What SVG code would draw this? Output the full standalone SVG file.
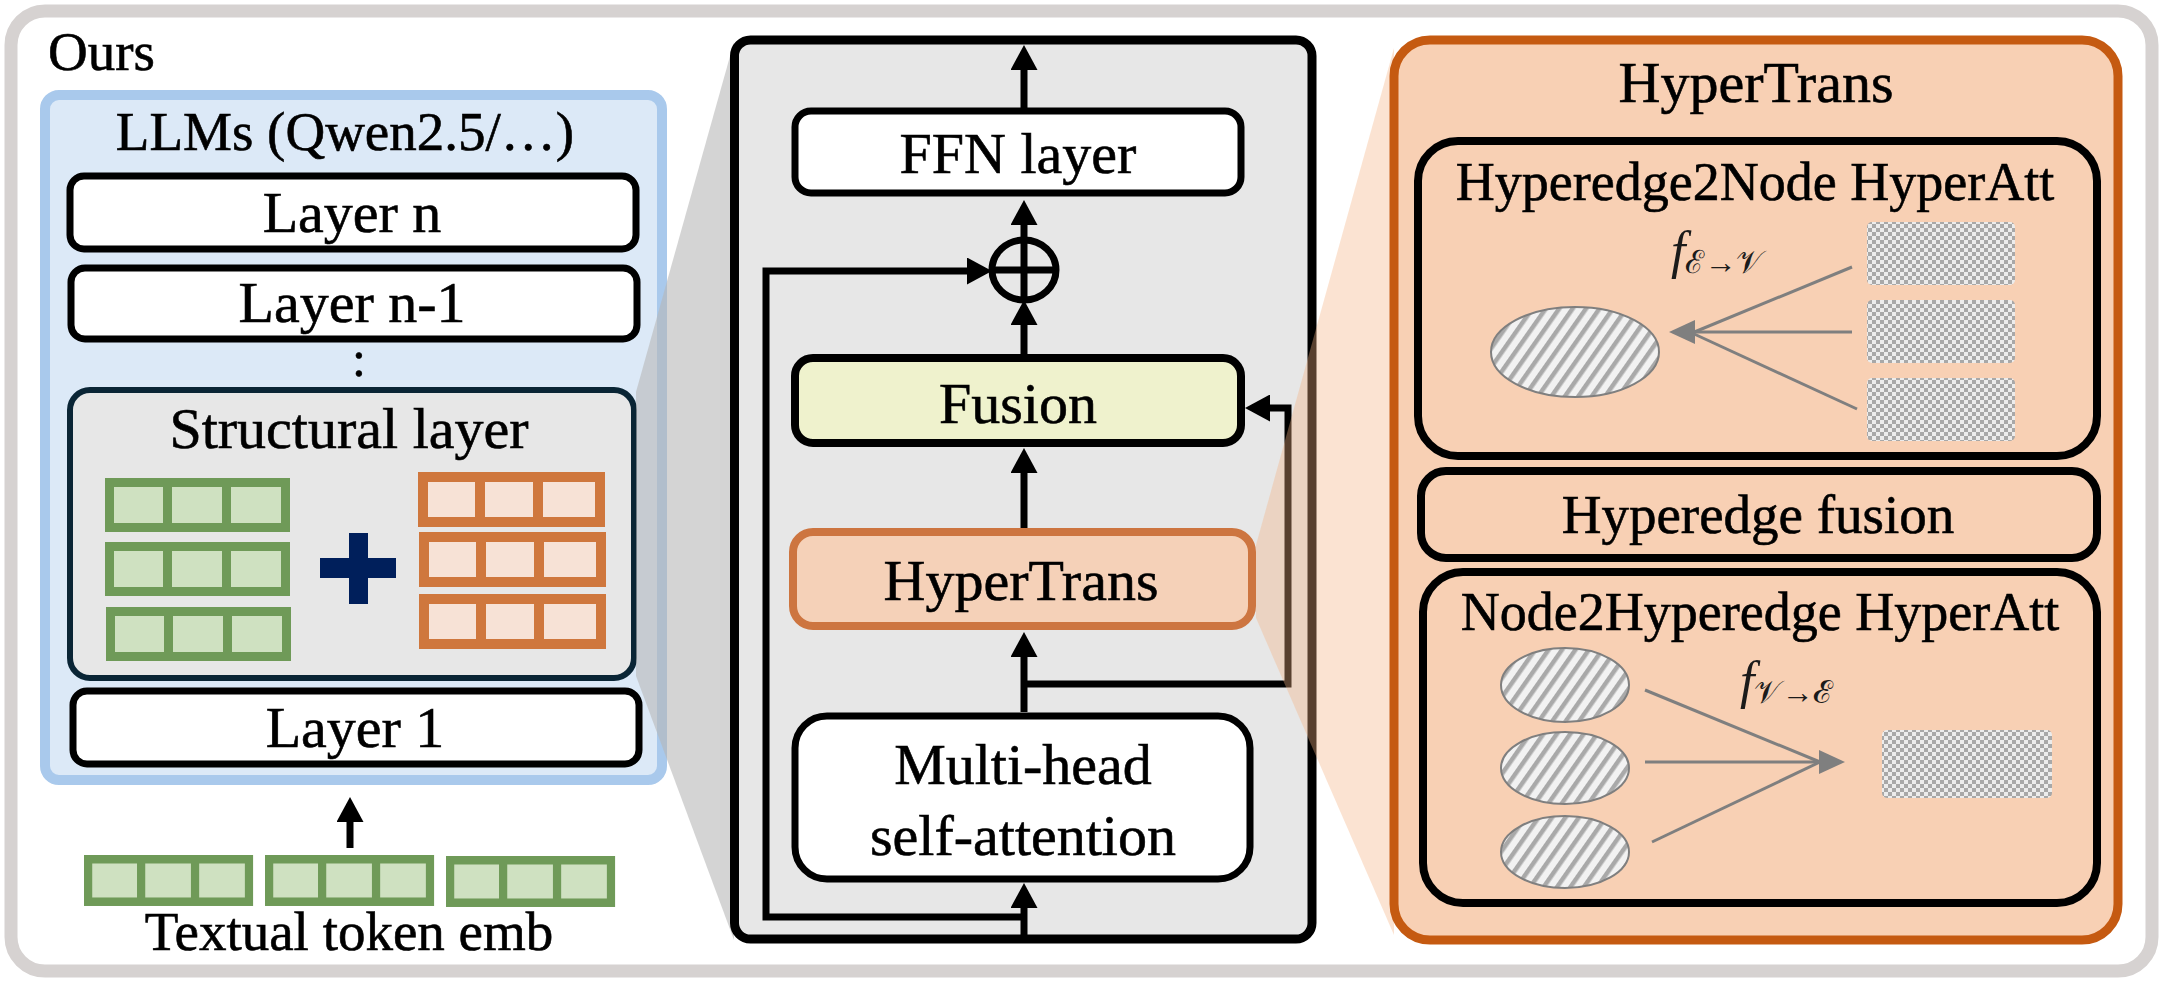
<svg xmlns="http://www.w3.org/2000/svg" width="2163" height="999" viewBox="0 0 2163 999">
<defs>
<style>
text{font-family:"Times New Roman","Liberation Serif",serif}
.t{fill:#000;text-anchor:middle;stroke:#000;stroke-width:0.6}
.ts{fill:#000;text-anchor:start;stroke:#000;stroke-width:0.6}
.box{fill:#fff;stroke:#000;stroke-width:7}
.conn{fill:none;stroke:#000;stroke-width:7}
.gconn{fill:none;stroke:#7f7f7f;stroke-width:3}
.sub{fill:none;stroke:#000;stroke-width:8}
.node{fill:url(#hatch);stroke:#7f7f7f;stroke-width:2}
.edge{fill:url(#checker)}
.math{fill:#1b1b1b}
</style>
<marker id="arr" markerUnits="userSpaceOnUse" markerWidth="25" markerHeight="27" viewBox="0 0 25 27" refX="18" refY="13.5" orient="auto"><path d="M0,0 L25,13.5 L0,27 Z" fill="#000"/></marker>
<marker id="garr" markerUnits="userSpaceOnUse" markerWidth="26" markerHeight="24" viewBox="0 0 26 24" refX="20" refY="12" orient="auto"><path d="M0,0 L26,12 L0,24 Z" fill="#7f7f7f"/></marker>
<pattern id="hatch" patternUnits="userSpaceOnUse" width="11" height="11" patternTransform="rotate(35)"><rect width="11" height="11" fill="#f2f2f2"/><rect width="4.5" height="11" fill="#a9a9a9"/></pattern>
<pattern id="checker" patternUnits="userSpaceOnUse" width="8" height="8"><rect width="8" height="8" fill="#ececec"/><rect width="4" height="4" fill="#a8a8a8"/><rect x="4" y="4" width="4" height="4" fill="#a8a8a8"/></pattern>
<g id="gbar"><rect width="185" height="54" fill="#6f9a58"/><rect x="9" y="9" width="49" height="36" fill="#cfe1c1"/><rect x="67" y="9" width="50" height="36" fill="#cfe1c1"/><rect x="126" y="9" width="50" height="36" fill="#cfe1c1"/></g>
<g id="obar"><rect width="187" height="55" fill="#cf773d"/><rect x="10" y="10" width="47" height="35" fill="#f7e2d6"/><rect x="67" y="10" width="48" height="35" fill="#f7e2d6"/><rect x="125" y="10" width="52" height="35" fill="#f7e2d6"/></g>
</defs>

<g id="frame">
<rect x="11" y="11" width="2141" height="960" rx="34" fill="#fff" stroke="#d6d2d1" stroke-width="13"/>
<text class="ts" x="48" y="70" font-size="55">Ours</text>
</g>

<g id="llm-panel">
<rect x="45" y="95" width="617" height="685" rx="14" fill="#dce9f7" stroke="#a9c9ec" stroke-width="10"/>
<text class="t" x="345" y="150" font-size="55">LLMs (Qwen2.5/…)</text>
</g>
<g id="layer-n">
<rect class="box" x="70" y="176" width="566" height="73" rx="14"/>
<text class="t" x="352" y="232" font-size="58">Layer n</text>
</g>
<g id="layer-n-1">
<rect class="box" x="71" y="268" width="566" height="71" rx="14"/>
<text class="t" x="352" y="322" font-size="58">Layer n-1</text>
</g>
<text class="t" x="359" y="376" font-size="50" stroke-width="1.5">:</text>
<g id="structural-layer">
<rect x="70" y="390" width="564" height="288" rx="20" fill="#e7e7e7" stroke="#0a2535" stroke-width="6"/>
<text class="t" x="349" y="448" font-size="58">Structural layer</text>
<use href="#gbar" x="105" y="478"/>
<use href="#gbar" x="105" y="542"/>
<use href="#gbar" x="106" y="607"/>
<use href="#obar" x="418" y="472"/>
<use href="#obar" x="419" y="532"/>
<use href="#obar" x="419" y="594"/>
<rect x="349" y="533" width="19" height="71" fill="#001f5b"/>
<rect x="320" y="558" width="76" height="20" fill="#001f5b"/>
</g>
<g id="layer-1">
<rect class="box" x="73" y="691" width="566" height="73" rx="14"/>
<text class="t" x="355" y="747" font-size="58">Layer 1</text>
</g>
<g id="token-emb">
<use href="#gbar" transform="translate(84,855) scale(0.914,0.944)"/>
<use href="#gbar" transform="translate(265,855) scale(0.914,0.944)"/>
<use href="#gbar" transform="translate(446,856) scale(0.914,0.944)"/>
<text class="t" x="349" y="950" font-size="55">Textual token emb</text>
</g>

<g id="zoom-gray">
<polygon points="636,392 734,42 734,940 636,676" fill="#b7b7b7" fill-opacity="0.6"/>
</g>

<g id="block-panel">
<rect x="734.5" y="40" width="577.5" height="899" rx="16" fill="#e7e7e7" stroke="#000" stroke-width="9"/>
</g>
<g id="ffn">
<rect class="box" x="795" y="111" width="446" height="82" rx="16" stroke-width="8"/>
<text class="t" x="1018" y="173" font-size="58">FFN layer</text>
</g>
<g id="add">
<ellipse cx="1024" cy="270" rx="32" ry="30" fill="none" stroke="#000" stroke-width="7"/>
<line x1="992" y1="270" x2="1056" y2="270" stroke="#000" stroke-width="7"/>
<line x1="1024" y1="240" x2="1024" y2="300" stroke="#000" stroke-width="7"/>
</g>
<g id="fusion">
<rect x="795" y="358" width="446" height="85" rx="18" fill="#eff2cd" stroke="#000" stroke-width="8"/>
<text class="t" x="1018" y="423" font-size="58">Fusion</text>
</g>
<g id="hypertrans">
<rect x="793" y="532" width="459" height="94" rx="20" fill="#f5d1b8" stroke="#cd7540" stroke-width="8"/>
<text class="t" x="1021" y="600" font-size="58">HyperTrans</text>
</g>
<g id="mhsa">
<rect class="box" x="795" y="716" width="455" height="163" rx="32" stroke-width="8"/>
<text class="t" x="1023" y="784" font-size="58">Multi-head</text>
<text class="t" x="1023" y="855" font-size="58">self-attention</text>
</g>

<g id="connectors">
<path class="conn" d="M1024,108 V52" marker-end="url(#arr)"/>
<path class="conn" d="M1024,240 V207" marker-end="url(#arr)"/>
<path class="conn" d="M1024,354 V307" marker-end="url(#arr)"/>
<path class="conn" d="M1024,528 V455" marker-end="url(#arr)"/>
<path class="conn" d="M1024,712 V639" marker-end="url(#arr)"/>
<path class="conn" d="M1024,940 V890" marker-end="url(#arr)"/>
<path class="conn" d="M1024,917 H766 V271 H985" marker-end="url(#arr)"/>
<path class="conn" d="M1024,684 H1288 V408 H1252" marker-end="url(#arr)"/>
<path class="conn" d="M350,848 V804" marker-end="url(#arr)"/>
</g>

<g id="zoom-orange">
<polygon points="1256,545 1394,48 1394,935 1256,618" fill="#f4b183" fill-opacity="0.36"/>
</g>

<g id="hypertrans-panel">
<rect x="1394" y="40" width="724" height="900" rx="36" fill="#f8d0b4" stroke="#c55a11" stroke-width="9"/>
<text class="t" x="1756" y="102" font-size="58">HyperTrans</text>
</g>
<g id="hyperedge2node">
<rect class="sub" x="1418" y="141" width="679" height="315" rx="40"/>
<text class="t" x="1755" y="200" font-size="54">Hyperedge2Node HyperAtt</text>
<ellipse class="node" cx="1575" cy="352" rx="84" ry="45"/>
<rect class="edge" x="1867" y="222" width="148" height="63" rx="5"/>
<rect class="edge" x="1867" y="300" width="148" height="63" rx="5"/>
<rect class="edge" x="1867" y="378" width="148" height="63" rx="5"/>
<text class="math" x="1671" y="268" font-size="52" font-style="italic">f<tspan font-size="32" font-style="normal" dy="5">ℰ→𝒱</tspan></text>
</g>
<g id="hyperedge-fusion">
<rect class="sub" x="1421" y="471" width="676" height="87" rx="25"/>
<text class="t" x="1758" y="533" font-size="55">Hyperedge fusion</text>
</g>
<g id="node2hyperedge">
<rect class="sub" x="1423" y="572" width="674" height="331" rx="40"/>
<text class="t" x="1760" y="630" font-size="54">Node2Hyperedge HyperAtt</text>
<ellipse class="node" cx="1565" cy="685" rx="64" ry="37"/>
<ellipse class="node" cx="1565" cy="768" rx="64" ry="36"/>
<ellipse class="node" cx="1565" cy="852" rx="64" ry="36"/>
<rect class="edge" x="1882" y="730" width="170" height="68" rx="5"/>
<text class="math" x="1740" y="698" font-size="52" font-style="italic">f<tspan font-size="32" font-style="normal" dy="5">𝒱→ℰ</tspan></text>
</g>

<g id="hyper-connectors">
<path class="gconn" d="M1852,267 L1692,333"/>
<path class="gconn" d="M1857,409 L1692,333"/>
<path class="gconn" d="M1852,332 L1675,332" marker-end="url(#garr)"/>
<path class="gconn" d="M1645,690 L1820,762"/>
<path class="gconn" d="M1652,842 L1820,762"/>
<path class="gconn" d="M1645,762 L1839,762" marker-end="url(#garr)"/>
</g>
</svg>
